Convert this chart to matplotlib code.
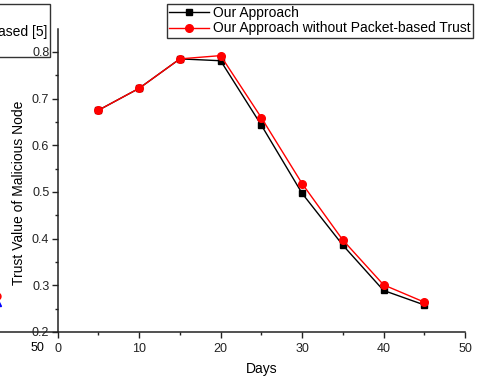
import matplotlib
matplotlib.use('Agg')
import matplotlib.pyplot as plt
from matplotlib.lines import Line2D
from matplotlib.patches import Rectangle
from matplotlib.ticker import MultipleLocator

plt.rcParams['font.family'] = ['Liberation Sans', 'DejaVu Sans']

# data
days = [5, 10, 15, 20, 25, 30, 35, 40, 45]
our_approach = [0.675, 0.722, 0.785, 0.781, 0.643, 0.497, 0.386, 0.289, 0.258]
without_packet = [0.675, 0.722, 0.785, 0.792, 0.659, 0.518, 0.397, 0.301, 0.264]
series_labels = ['Our Approach', 'Our Approach without Packet-based Trust']

W, H = 478, 379
fig = plt.figure(figsize=(W / 100, H / 100), dpi=100)

def fx(px):
    return px / W

def fy(py):
    return 1 - py / H

ax = fig.add_axes([fx(57.7), fy(332), fx(465) - fx(57.7), fy(29) - fy(332)])

ax.plot(days, our_approach, color='black', lw=1, marker='s', ms=4.5, label=series_labels[0])
ax.plot(days, without_packet, color='red', lw=1, marker='o', ms=5.5, label=series_labels[1])

ax.set_xlim(0, 50)
ax.set_ylim(0.2, 0.849)
ax.xaxis.set_major_locator(MultipleLocator(10))
ax.xaxis.set_minor_locator(MultipleLocator(5))
ax.yaxis.set_minor_locator(MultipleLocator(0.05))
ax.set_yticks([0.2, 0.3, 0.4, 0.5, 0.6, 0.7, 0.8])
ax.set_yticklabels(['0.2', '0.3', '0.4', '0.5', '0.6', '0.7', '0.8'])

for side in ['top', 'right']:
    ax.spines[side].set_visible(False)
for side in ['left', 'bottom']:
    ax.spines[side].set_linewidth(1.1)
    ax.spines[side].set_color('#222222')
ax.tick_params(which='major', direction='out', length=4, width=1, labelsize=9, pad=2, colors='#222222')
ax.tick_params(which='minor', direction='out', length=2.5, width=1, colors='#222222')
ax.tick_params(axis='x', which='major', pad=4)

ax.set_xlabel('Days', fontsize=10, labelpad=5)
fig.text(fx(19.5), fy(193), 'Trust Value of Malicious Node', rotation=90,
         ha='center', va='center', fontsize=10)

leg = ax.legend(loc='upper right', bbox_to_anchor=(fx(473), fy(4)), bbox_transform=fig.transFigure,
                borderaxespad=0, fancybox=False, fontsize=10, handlelength=2.9,
                borderpad=0.15, labelspacing=0.1, handletextpad=0.3, framealpha=1)
leg.get_frame().set_edgecolor('#333333')
leg.get_frame().set_linewidth(1)

# fragments of the neighbouring chart that the crop cut through
fig.add_artist(Line2D([fx(0), fx(57.7)], [fy(332), fy(332)], color='#222222', lw=1.1,
                      transform=fig.transFigure))
fig.text(fx(37), fy(348), '50', ha='center', va='center', fontsize=9)
fig.add_artist(Rectangle((fx(-5), fy(56.5)), fx(55), fy(4.3) - fy(56.5), fill=False,
                         edgecolor='#333333', lw=1, transform=fig.transFigure))
fig.text(fx(47.5), fy(32), 'ased [5]', ha='right', va='center', fontsize=10)
fig.add_artist(Line2D([fx(-3.5)], [fy(296)], marker='o', ms=5, color='red',
                      transform=fig.transFigure))
fig.add_artist(Line2D([fx(-2.5)], [fy(303)], marker='^', ms=5, color='blue',
                      transform=fig.transFigure))

fig.savefig('out.png', dpi=100)
